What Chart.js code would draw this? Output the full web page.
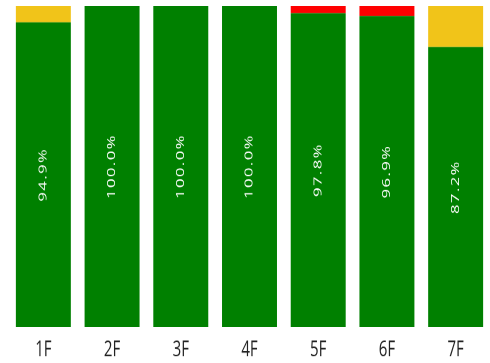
<!DOCTYPE html>
<html>
<head>
<meta charset="utf-8">
<script src="https://cdn.jsdelivr.net/npm/chart.js@4/dist/chart.umd.min.js"></script>
<style>
	html, body { margin: 0; padding: 0; background: #fff; }
	#page { width: 490px; height: 363px; position: relative; overflow: hidden; }
	#wrap { position: absolute; left: 0; top: 0; width: 490px; height: 242px; transform: scaleY(1.5); transform-origin: 0 0; }
</style>
</head>
<body>
<div id="page"><div id="wrap"><canvas id="graphEtage" width="490" height="242"></canvas></div></div>
<script>
// taux par étage
const floors = ["1F", "2F", "3F", "4F", "5F", "6F", "7F"];
const okRate = [94.9, 100.0, 100.0, 100.0, 97.8, 96.9, 87.2];
const failRate = [0, 0, 0, 0, 2.2, 3.1, 0];
const waitRate = [5.1, 0, 0, 0, 0, 0, 12.8];

// pourcentage écrit verticalement au milieu de la barre verte
const labelPlugin = {
	id: "barLabels",
	afterDatasetsDraw(chart) {
		const ctx = chart.ctx;
		const meta = chart.getDatasetMeta(0);
		ctx.save();
		ctx.fillStyle = "#ffffff";
		ctx.font = "11px 'Open Sans'";
		ctx.letterSpacing = "1px";
		ctx.textAlign = "center";
		ctx.textBaseline = "middle";
		meta.data.forEach((bar, i) => {
			const cy = (bar.y + bar.base) / 2;
			ctx.save();
			ctx.translate(bar.x, cy);
			ctx.rotate(-Math.PI / 2);
			ctx.fillText(okRate[i].toFixed(1) + "%", 0, 0);
			ctx.restore();
		});
		ctx.restore();
	},
};

window.addEventListener("load", () => {
	const canva = document.querySelector("#graphEtage");
	new Chart(canva, {
		type: "bar",
		data: {
			labels: floors,
			datasets: [
				{ label: "OK", data: okRate, backgroundColor: "#008000" },
				{ label: "NG", data: failRate, backgroundColor: "#ff0000" },
				{ label: "Attente", data: waitRate, backgroundColor: "#f1c419" },
			],
		},
		options: {
			responsive: false,
			animation: false,
			devicePixelRatio: 2,
			datasets: {
				bar: { barPercentage: 1, categoryPercentage: 0.8, borderWidth: 0 },
			},
			layout: { padding: { left: 9, right: -2, top: 4, bottom: -6 } },
			plugins: {
				legend: { display: false },
				tooltip: { enabled: false },
			},
			scales: {
				x: {
					stacked: true,
					grid: { display: false, drawTicks: false },
					border: { display: false },
					ticks: {
						color: "#222",
						padding: 6,
						font: { family: "'Open Sans'", size: 15 },
					},
				},
				y: {
					stacked: true,
					display: false,
					min: 0,
					max: 100,
				},
			},
		},
		plugins: [labelPlugin],
	});
});
</script>
</body>
</html>
